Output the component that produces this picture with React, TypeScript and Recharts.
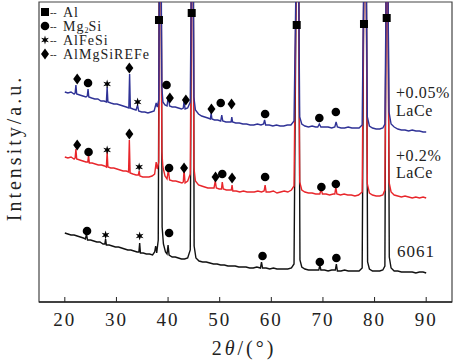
import {
  ComposedChart,
  Line,
  Scatter,
  XAxis,
  YAxis,
  ReferenceArea,
  Customized,
} from "recharts";

const FONT = '"Liberation Serif", "Times New Roman", serif';

/* ------------------------------------------------------------------ */
/*  Data: [2theta, intensity]                       */
/* ------------------------------------------------------------------ */

const xTicks = [20, 30, 40, 50, 60, 70, 80, 90];

const blue005: [number, number][] = [
  [20.0, 210], [20.6, 209], [21.2, 210], [21.8, 208], [22.0, 209], [22.15, 217], [22.3, 208],
  [22.9, 207], [23.5, 206], [24.1, 205], [24.35, 206], [24.5, 213], [24.65, 205], [25.2, 204],
  [25.8, 203], [26.4, 203], [27.0, 201], [27.6, 201], [28.05, 200], [28.2, 215], [28.35, 200],
  [28.9, 199], [29.5, 198], [30.1, 198], [30.7, 197], [31.3, 196], [31.9, 195], [32.4, 194],
  [32.55, 228], [32.7, 194], [33.2, 193], [33.8, 192], [34.1, 197], [34.3, 191], [34.9, 190],
  [35.5, 190], [36.1, 189], [36.7, 190], [37.3, 191], [37.7, 199], [37.9, 195], [38.2, 202],
  [38.35, 345], [38.65, 345], [38.8, 215], [39.0, 200], [39.4, 197], [39.8, 196], [40.05, 206],
  [40.3, 196], [40.8, 195], [41.4, 195], [42.0, 194], [42.6, 193], [42.95, 194], [43.1, 201],
  [43.3, 193], [43.8, 194], [44.3, 200], [44.55, 345], [44.85, 345], [45.0, 205], [45.3, 192],
  [45.9, 188], [46.5, 186], [47.1, 185], [47.7, 184], [48.2, 183], [48.35, 189], [48.5, 183],
  [49.0, 182], [49.6, 182], [50.2, 181], [50.4, 187], [50.6, 181], [51.2, 180], [51.8, 180],
  [52.2, 180], [52.35, 185], [52.5, 180], [53.1, 179], [53.8, 179], [54.5, 178], [55.2, 178],
  [55.9, 177], [56.6, 177], [57.3, 178], [58.0, 177], [58.5, 178], [58.7, 182], [58.9, 177],
  [59.6, 177], [60.3, 176], [61.0, 177], [61.7, 176], [62.4, 176], [63.1, 177], [63.8, 177],
  [64.4, 181], [64.85, 345], [65.25, 345], [65.5, 185], [65.9, 178], [66.5, 176], [67.2, 175],
  [67.9, 176], [68.6, 175], [69.0, 175], [69.3, 178], [69.6, 175], [70.3, 175], [71.0, 175],
  [71.7, 174], [72.3, 175], [72.55, 180], [72.8, 175], [73.5, 174], [74.2, 174], [74.9, 175],
  [75.6, 174], [76.3, 174], [77.0, 174], [77.6, 177], [77.95, 345], [78.35, 345], [78.6, 185],
  [79.0, 176], [79.6, 174], [80.3, 173], [81.0, 173], [81.6, 174], [82.0, 178], [82.3, 345],
  [82.55, 345], [82.8, 190], [83.2, 178], [83.8, 175], [84.5, 173], [85.2, 172], [85.9, 172],
  [86.6, 171], [87.3, 172], [88.0, 171], [88.7, 171], [89.4, 170], [90.0, 170],
];

const red02: [number, number][] = [
  [20.0, 145], [20.6, 144], [21.2, 145], [21.8, 143], [22.0, 144], [22.15, 153], [22.3, 143],
  [22.9, 142], [23.5, 141], [24.1, 140], [24.45, 140], [24.6, 147], [24.75, 139], [25.3, 139],
  [25.9, 138], [26.5, 137], [27.1, 137], [27.7, 136], [28.05, 135], [28.2, 150], [28.35, 135],
  [28.9, 134], [29.5, 134], [30.1, 133], [30.7, 132], [31.3, 131], [31.9, 131], [32.35, 130],
  [32.5, 162], [32.65, 129], [33.2, 128], [33.8, 127], [34.25, 127], [34.4, 131], [34.55, 126],
  [35.1, 125], [35.7, 125], [36.3, 125], [36.9, 126], [37.4, 128], [37.7, 140], [37.9, 133],
  [38.2, 140], [38.35, 345], [38.65, 345], [38.8, 150], [39.0, 135], [39.4, 126], [39.8, 123],
  [40.05, 132], [40.3, 122], [40.9, 121], [41.5, 121], [42.1, 120], [42.7, 119], [42.95, 120],
  [43.1, 132], [43.3, 119], [43.8, 121], [44.3, 128], [44.55, 345], [44.85, 345], [45.0, 135],
  [45.3, 121], [45.9, 117], [46.5, 116], [47.1, 115], [47.7, 114], [48.3, 114], [48.9, 114],
  [49.15, 121], [49.35, 114], [49.9, 113], [50.35, 113], [50.5, 120], [50.7, 113], [51.3, 112],
  [51.9, 112], [52.25, 112], [52.4, 117], [52.55, 111], [53.2, 111], [53.9, 110], [54.6, 111],
  [55.3, 110], [56.0, 110], [56.7, 110], [57.4, 111], [58.1, 110], [58.6, 111], [58.8, 117],
  [59.0, 110], [59.7, 110], [60.4, 111], [61.1, 109], [61.8, 110], [62.5, 111], [63.2, 110],
  [63.9, 112], [64.4, 116], [64.85, 345], [65.25, 345], [65.5, 120], [65.9, 112], [66.5, 110],
  [67.2, 109], [67.9, 109], [68.6, 108], [69.4, 108], [69.65, 113], [69.9, 108], [70.6, 108],
  [71.3, 107], [72.0, 108], [72.3, 108], [72.5, 115], [72.7, 108], [73.4, 107], [74.1, 108],
  [74.8, 107], [75.5, 107], [76.2, 106], [76.9, 107], [77.6, 110], [77.95, 345], [78.35, 345],
  [78.6, 118], [79.0, 109], [79.6, 107], [80.3, 106], [81.0, 106], [81.6, 107], [82.0, 112],
  [82.3, 345], [82.55, 345], [82.8, 120], [83.2, 110], [83.8, 107], [84.5, 106], [85.2, 105],
  [85.9, 106], [86.6, 105], [87.3, 104], [88.0, 105], [88.7, 104], [89.4, 105], [90.0, 104],
];

const black6061: [number, number][] = [
  [20.0, 69], [20.6, 68], [21.2, 67], [21.8, 67], [22.4, 66], [23.0, 65], [23.6, 64], [24.0, 63],
  [24.2, 68], [24.4, 62], [25.0, 62], [25.6, 61], [26.2, 60], [26.8, 60], [27.4, 58], [27.75, 58],
  [27.9, 63], [28.05, 57], [28.6, 57], [29.2, 56], [29.8, 55], [30.4, 55], [31.0, 54], [31.6, 53],
  [32.2, 52], [32.8, 52], [33.4, 51], [34.0, 50], [34.35, 50], [34.5, 59], [34.65, 49], [35.2, 49],
  [35.8, 48], [36.4, 48], [37.0, 47], [37.4, 50], [37.6, 56], [37.8, 49], [38.1, 62], [38.3, 345],
  [38.65, 345], [38.85, 75], [39.1, 58], [39.5, 50], [39.8, 48], [40.0, 57], [40.2, 47], [40.8, 45],
  [41.4, 45], [42.0, 44], [42.6, 43], [43.2, 43], [43.8, 44], [44.3, 52], [44.55, 345], [44.9, 345],
  [45.05, 56], [45.4, 44], [46.0, 41], [46.7, 40], [47.4, 40], [48.1, 39], [48.8, 38], [49.5, 38],
  [50.2, 37], [50.9, 37], [51.6, 36], [52.3, 36], [53.0, 36], [53.7, 35], [54.4, 35], [55.1, 35],
  [55.8, 34], [56.5, 34], [57.2, 35], [57.9, 34], [58.1, 40], [58.3, 34], [59.0, 34], [59.7, 33],
  [60.4, 34], [61.1, 33], [61.8, 33], [62.5, 33], [63.2, 33], [63.9, 34], [64.4, 38], [64.85, 345],
  [65.3, 345], [65.55, 42], [65.9, 35], [66.5, 33], [67.2, 32], [67.9, 32], [68.6, 32], [69.2, 32],
  [69.4, 37], [69.6, 32], [70.3, 32], [71.0, 31], [71.7, 32], [72.4, 32], [72.6, 38], [72.8, 31],
  [73.5, 31], [74.2, 32], [74.9, 31], [75.6, 31], [76.3, 31], [77.0, 31], [77.6, 34], [77.95, 345],
  [78.4, 345], [78.65, 40], [79.0, 33], [79.6, 31], [80.3, 31], [81.0, 31], [81.6, 32], [82.0, 36],
  [82.25, 345], [82.6, 345], [82.85, 45], [83.2, 34], [83.8, 31], [84.5, 31], [85.2, 30], [85.9, 30],
  [86.6, 30], [87.3, 30], [88.0, 29], [88.7, 30], [89.4, 30], [90.0, 29],
];

// phase markers [2theta, height]
const alMarks: [number, number][] = [[38.24, 282], [44.58, 289], [64.92, 277], [77.95, 278], [82.35, 284]];
const mg2siMarks: [number, number][] = [
  [24.5, 219], [39.7, 217], [50.2, 199], [58.8, 188], [69.3, 184], [72.5, 190],
  [24.6, 150], [40.2, 134], [50.5, 128], [58.8, 125], [69.7, 115], [72.5, 118],
  [24.3, 71], [40.2, 69], [58.3, 46], [69.4, 40], [72.6, 44],
];
const alfesiMarks: [number, number][] = [
  [28.2, 218], [34.1, 200], [28.2, 152], [34.4, 135], [27.9, 67], [34.5, 66],
];
const alMgSiREFeMarks: [number, number][] = [
  [22.4, 223], [32.5, 234], [40.35, 204], [43.45, 202], [48.4, 193], [52.3, 198],
  [22.4, 157], [32.5, 168], [43.1, 134], [49.2, 125], [52.4, 124],
];

const toPts = (arr: [number, number][]) => arr.map(([x, y]) => ({ x, y }));

/* ------------------------------------------------------------------ */
/*  Marker shapes                                                       */
/* ------------------------------------------------------------------ */

const Square = ({ cx, cy }: any) => <rect x={cx - 4} y={cy - 4} width={8} height={8} fill="#000" />;
const Dot = ({ cx, cy }: any) => <circle cx={cx} cy={cy} r={4.3} fill="#000" />;
const Diamond = ({ cx, cy }: any) => (
  <polygon points={`${cx},${cy - 5.5} ${cx + 4},${cy} ${cx},${cy + 5.5} ${cx - 4},${cy}`} fill="#000" />
);
const Star = ({ cx, cy }: any) => {
  const pts: string[] = [];
  for (let i = 0; i < 12; i++) {
    const r = i % 2 === 0 ? 4.5 : 1.8;
    const a = (Math.PI / 6) * i - Math.PI / 2;
    pts.push(`${cx + r * Math.cos(a)},${cy + r * Math.sin(a)}`);
  }
  return <polygon points={pts.join(" ")} fill="#000" />;
};

/* ------------------------------------------------------------------ */
/*  Axis tick + text overlays                                           */
/* ------------------------------------------------------------------ */

const XTick = ({ x, y, payload }: any) => (
  <g>
    <line x1={x} x2={x} y1={y} y2={y - 5} stroke="#222" />
    <text x={x} y={y + 24} textAnchor="middle" fontFamily={FONT} fontSize={19} letterSpacing={2} fill="#222">
      {payload.value}
    </text>
  </g>
);

const legendRows = [
  { label: "Al", Icon: Square },
  { label: "Mg2Si", Icon: Dot },
  { label: "AlFeSi", Icon: Star },
  { label: "AlMgSiREFe", Icon: Diamond },
];

const Overlay = () => (
  <g fontFamily={FONT} fill="#222">
    {legendRows.map((row, i) => {
      const cy = 12 + i * 14;
      const Icon = row.Icon;
      return (
        <g key={row.label}>
          <Icon cx={45} cy={cy} />
          <text x={50} y={cy + 5} fontSize={14}>
            <tspan fontSize={10} dy={-1}>--</tspan>
            {row.label === "Mg2Si" ? (
              <>
                <tspan x={63} dy={1} letterSpacing={1}>Mg</tspan>
                <tspan fontSize={8} dy={1.5}>2</tspan>
                <tspan dy={-1.5} letterSpacing={1}>Si</tspan>
              </>
            ) : (
              <tspan x={63} dy={1} letterSpacing={1}>{row.label}</tspan>
            )}
          </text>
        </g>
      );
    })}
    <text fontSize={16} letterSpacing={0.6}>
      <tspan x={396} y={98}>+0.05%</tspan>
      <tspan x={396} y={116}>LaCe</tspan>
    </text>
    <text fontSize={16} letterSpacing={0.6}>
      <tspan x={396} y={161}>+0.2%</tspan>
      <tspan x={396} y={178}>LaCe</tspan>
    </text>
    <text x={397} y={257} fontSize={17} letterSpacing={1}>6061</text>
    <text x={244} y={355} textAnchor="middle" fontSize={20} letterSpacing={3}>
      2<tspan fontStyle="italic">θ</tspan>/(°)
    </text>
    <text
      x={0}
      y={0}
      transform="translate(21,148) rotate(-90)"
      textAnchor="middle"
      fontSize={20}
      letterSpacing={3}
    >
      Intensity/a.u.
    </text>
  </g>
);

export default function App() {
  return (
    <div style={{ position: "absolute", left: 0, top: 0, background: "#fff" }}>
      <ComposedChart width={453} height={361} margin={{ top: 2, right: 1, bottom: 29, left: 39 }}>
        <XAxis
          type="number"
          dataKey="x"
          domain={[15, 95]}
          ticks={xTicks}
          allowDataOverflow
          height={30}
          tickSize={0}
          tickMargin={0}
          tickLine={false}
          tick={<XTick />}
          axisLine={{ stroke: "#222", strokeWidth: 1.5 }}
        />
        <YAxis type="number" dataKey="y" domain={[0, 300]} allowDataOverflow hide />
        <ReferenceArea x1={15} x2={95} y1={0} y2={300} fill="none" stroke="#444" strokeWidth={1.2} />
        <Line data={toPts(black6061)} dataKey="y" stroke="#111" strokeWidth={1.4} dot={false} isAnimationActive={false} />
        <Line data={toPts(red02)} dataKey="y" stroke="#e8262b" strokeWidth={1.4} dot={false} isAnimationActive={false} />
        <Line data={toPts(blue005)} dataKey="y" stroke="#2f3296" strokeWidth={1.4} dot={false} isAnimationActive={false} />
        <Scatter data={toPts(alMarks)} dataKey="y" shape={Square} isAnimationActive={false} />
        <Scatter data={toPts(mg2siMarks)} dataKey="y" shape={Dot} isAnimationActive={false} />
        <Scatter data={toPts(alfesiMarks)} dataKey="y" shape={Star} isAnimationActive={false} />
        <Scatter data={toPts(alMgSiREFeMarks)} dataKey="y" shape={Diamond} isAnimationActive={false} />
        <Customized component={Overlay} />
      </ComposedChart>
    </div>
  );
}
